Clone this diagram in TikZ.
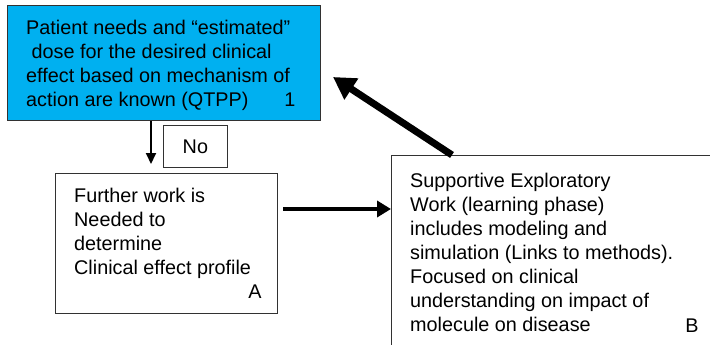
\documentclass[tikz,border=0pt]{standalone}
\usepackage{fontspec}
\setmainfont{Liberation Sans}
\usetikzlibrary{arrows.meta}
\definecolor{boxblue}{RGB}{0,176,240}
\definecolor{edge}{RGB}{50,50,50}
\begin{document}
\begin{tikzpicture}[x=1pt,y=-1pt,
  boxshape/.style={draw=edge,line width=0.8pt,rectangle,inner sep=0pt,anchor=north west},
  txt/.style={anchor=north west,inner sep=0pt,align=left,font=\fontsize{19.8}{24}\selectfont},
  lbl/.style={inner sep=0pt,font=\fontsize{19.8}{24}\selectfont},
  thin arrow/.style={line width=2pt,-{Triangle[length=11pt,width=10pt]}},
  mid arrow/.style={line width=4.5pt,-{Triangle[length=14pt,width=16pt]}},
  big arrow/.style={line width=7pt,-{Triangle[length=22pt,width=24pt]}}]
\useasboundingbox (0,0) rectangle (710,345);
\node[boxshape,fill=boxblue,minimum width=313pt,minimum height=115pt] (one) at (7,5) {};
\node[txt] (onetext) at (26,20) {Patient needs and “estimated”\\\ dose for the desired clinical\\effect based on mechanism of\\action are known (QTPP)};
\node[lbl] (onelbl) at (290,100) {1};
\node[boxshape,minimum width=64pt,minimum height=42pt] (no) at (163,125) {};
\node[lbl] (notext) at (no.center) {No};
\node[boxshape,minimum width=222pt,minimum height=140pt] (A) at (55,173) {};
\node[txt] (Atext) at (74,188) {Further work is\\Needed to\\determine\\Clinical effect profile};
\node[lbl] (Albl) at (255,292) {A};
\node[boxshape,minimum width=330pt,minimum height=200pt] (B) at (391,155) {};
\node[txt] (Btext) at (410,173) {Supportive Exploratory\\Work (learning phase)\\includes modeling and\\simulation (Links to methods).\\Focused on clinical\\understanding on impact of\\molecule on disease};
\node[lbl] (Blbl) at (692,326) {B};
\coordinate (dx) at (151,0);
\coordinate (abstart) at (283,209);
\coordinate (bstart) at (452,155);
\coordinate (oneend) at (333,77);
\draw[thin arrow] (one.south -| dx) -- (151,164);
\draw[mid arrow] (abstart) -- (abstart -| B.west);
\draw[big arrow] (bstart) -- (oneend);
\end{tikzpicture}
\end{document}
